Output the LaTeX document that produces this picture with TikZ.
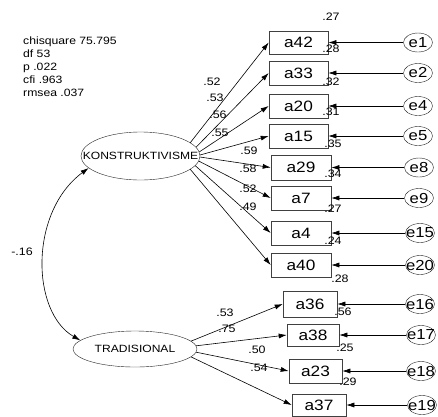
\documentclass[tikz,border=0pt]{standalone}
\usepackage{fontspec}
\setmainfont[FakeStretch=1.15]{Liberation Sans}
\usetikzlibrary{shapes.geometric,arrows.meta}
\begin{document}
\begin{tikzpicture}[x=1pt,y=-1pt,
  obs/.style={draw=black!75, rectangle, minimum height=24pt, inner sep=0pt, line width=0.6pt, font=\fontsize{15}{15}\selectfont},
  err/.style={draw=black!85, ellipse, minimum width=29pt, minimum height=19pt, inner sep=0pt, font=\fontsize{14.5}{14.5}\selectfont},
  lat/.style={draw=black!85, ellipse, inner sep=0pt, font=\fontsize{10.5}{10.5}\selectfont},
  num/.style={inner sep=0pt, font=\fontsize{10.8}{10.8}\selectfont},
  arr/.style={-{Latex[length=8pt,width=5pt]}, line width=0.6pt},
  darr/.style={{Latex[length=8pt,width=5pt]}-{Latex[length=8pt,width=5pt]}, line width=0.6pt},
]
\useasboundingbox[fill=white] (0,0) rectangle (438,416);

% fit statistics
\node[num, anchor=north west, align=left, font=\fontsize{10.6}{13}\selectfont] (stats) at (23,37)
 {chisquare 75.795\\df 53\\p .022\\cfi .963\\rmsea .037};

% latent variables
\node[lat, minimum width=119pt, minimum height=48pt] (K) at (140.5,156) {\makebox[0pt]{KONSTRUKTIVISME}};
\node[lat, minimum width=124pt, minimum height=36pt] (T) at (135,349) {\makebox[0pt]{TRADISIONAL}};

% observed variables
\node[obs, minimum width=59pt, minimum height=23pt] (a42) at (298.5,42.5) {a42};
\node[obs, minimum width=59pt] (a33) at (298.5,73) {a33};
\node[obs, minimum width=59pt] (a20) at (298.5,106) {a20};
\node[obs, minimum width=59pt] (a15) at (298.5,136) {a15};
\node[obs, minimum width=60pt, minimum height=25pt] (a29) at (301,167.5) {a29};
\node[obs, minimum width=60pt] (a7) at (301,198) {a7};
\node[obs, minimum width=60pt] (a4) at (301,233) {a4};
\node[obs, minimum width=60pt] (a40) at (301,265) {a40};
\node[obs, minimum width=54pt, minimum height=26pt] (a36) at (310,304) {a36};
\node[obs, minimum width=52pt, minimum height=22pt] (a38) at (313,335) {a38};
\node[obs, minimum width=53pt] (a23) at (315.5,371) {a23};
\node[obs, minimum width=54pt, minimum height=22pt] (a37) at (319,405) {a37};

% error terms
\node[err] (e1) at (418,42.5) {\makebox[0pt]{e1}};
\node[err] (e2) at (418,73) {\makebox[0pt]{e2}};
\node[err] (e4) at (418,106) {\makebox[0pt]{e4}};
\node[err] (e5) at (418,136) {\makebox[0pt]{e5}};
\node[err] (e8) at (419,167.5) {\makebox[0pt]{e8}};
\node[err] (e9) at (419,198) {\makebox[0pt]{e9}};
\node[err] (e15) at (420,233) {\makebox[0pt]{e15}};
\node[err] (e20) at (420,265) {\makebox[0pt]{e20}};
\node[err] (e16) at (420,304) {\makebox[0pt]{e16}};
\node[err] (e17) at (421,335) {\makebox[0pt]{e17}};
\node[err] (e18) at (421,371) {\makebox[0pt]{e18}};
\node[err] (e19) at (422,405) {\makebox[0pt]{e19}};

% error paths
\foreach \e/\a in {e1/a42,e2/a33,e4/a20,e5/a15,e8/a29,e9/a7,e15/a4,e20/a40,e16/a36,e17/a38,e18/a23,e19/a37}
  \draw[arr] (\e) -- (\a);

% loadings KONSTRUKTIVISME
\draw[arr] (K.15.8) -- (a42.west);
\draw[arr] (K.9.4) -- (a33.west);
\draw[arr] (K.4) -- (a20.west);
\draw[arr] (K.1) -- (a15.west);
\draw[arr] (K.-1) -- (a29.west);
\draw[arr] (K.-5) -- (a7.west);
\draw[arr] (K.-10.8) -- (a4.west);
\draw[arr] (K.-15.8) -- (a40.west);

% loadings TRADISIONAL
\draw[arr] (T.8) -- (a36.west);
\draw[arr] (T.3) -- (a38.west);
\draw[arr] (T.-3) -- (a23.west);
\draw[arr] (T.-8) -- (a37.west);

% covariance
\draw[darr] (T.171) .. controls (31,312) and (29,212) .. (K.193);
\node[num] (cov) at (22,252) {-.16};

% loading labels
\node[num] (l1) at (212,82) {.52};
\node[num] (l2) at (215,98) {.53};
\node[num] (l3) at (218,115) {.56};
\node[num] (l4) at (220,133) {.55};
\node[num] (l5) at (249,151) {.59};
\node[num] (l6) at (248,169) {.58};
\node[num] (l7) at (248,189) {.52};
\node[num] (l8) at (248,207) {.49};
\node[num] (l9) at (225,313) {.53};
\node[num] (l10) at (227,329) {.75};
\node[num] (l11) at (257,350) {.50};
\node[num] (l12) at (259,368) {.54};

% squared multiple correlations
\node[num] (r1) at (331,17) {.27};
\node[num] (r2) at (331,49) {.28};
\node[num] (r3) at (331,82) {.32};
\node[num] (r4) at (331,112) {.31};
\node[num] (r5) at (333,144) {.35};
\node[num] (r6) at (333,174) {.34};
\node[num] (r7) at (333,209) {.27};
\node[num] (r8) at (333,241) {.24};
\node[num] (r9) at (340,279) {.28};
\node[num] (r10) at (343,312) {.56};
\node[num] (r11) at (345,348) {.25};
\node[num] (r12) at (348,382) {.29};
\end{tikzpicture}
\end{document}
